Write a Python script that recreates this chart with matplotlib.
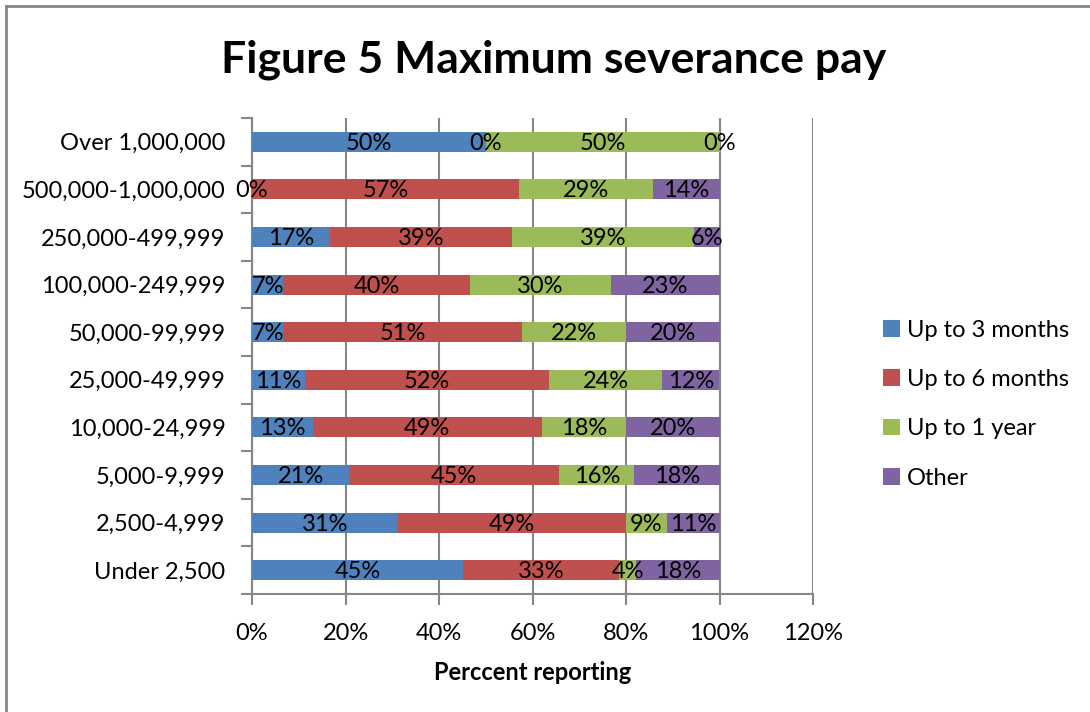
import matplotlib
matplotlib.use("Agg")
import matplotlib.pyplot as plt
from matplotlib.lines import Line2D
from matplotlib.patches import Patch
import numpy as np

categories = ["Over 1,000,000", "500,000-1,000,000", "250,000-499,999", "100,000-249,999",
              "50,000-99,999", "25,000-49,999", "10,000-24,999", "5,000-9,999",
              "2,500-4,999", "Under 2,500"]
series_names = ["Up to 3 months", "Up to 6 months", "Up to 1 year", "Other"]
up_to_3_months = [50.0, 0.0, 16.7, 6.7, 6.7, 11.4, 13.0, 20.8, 31.1, 45.1]
up_to_6_months = [0.0, 57.1, 38.9, 40.0, 51.1, 52.1, 49.0, 44.9, 48.8, 33.4]
up_to_1_year = [50.0, 28.6, 38.9, 30.0, 22.2, 24.3, 18.0, 16.1, 8.8, 3.7]
other = [0.0, 14.3, 5.6, 23.3, 20.0, 12.2, 20.0, 18.2, 11.3, 17.8]
x_ticks = [0, 20, 40, 60, 80, 100, 120]
x_tick_labels = ["0%", "20%", "40%", "60%", "80%", "100%", "120%"]
colors = ["#4F81BD", "#C0504D", "#9BBB59", "#8064A2"]

plt.rcParams['font.family'] = ['Lato', 'DejaVu Sans']
fs = 17
grid_c = "#868686"

fig = plt.figure(figsize=(10.9, 7.12), dpi=100)
ax = fig.add_axes([252/1090, 1 - 594/712, (813 - 252)/1090, (594 - 118)/712])

series = [up_to_3_months, up_to_6_months, up_to_1_year, other]
y = np.arange(len(categories))
left = np.zeros(len(categories))
for vals, name, col in zip(series, series_names, colors):
    vals = np.array(vals)
    ax.barh(y, vals, left=left, height=0.42, color=col, label=name, zorder=3)
    for yi, l, v in zip(y, left, vals):
        ax.text(l + v/2, yi + 0.03, f"{round(v):.0f}%", ha="center", va="center",
                fontsize=fs, color="black", zorder=4)
    left = left + vals

ax.set_xlim(0, 120)
ax.set_ylim(len(categories) - 0.5, -0.5)
ax.set_xticks(x_ticks)
ax.set_xticklabels(x_tick_labels, fontsize=fs)
ax.set_yticks(y)
ax.set_yticklabels(categories, fontsize=fs)
ax.tick_params(axis="y", length=0, pad=19)
ax.set_yticks(np.arange(len(categories) + 1) - 0.5, minor=True)
ax.tick_params(axis="y", which="minor", length=8, width=1.5, color=grid_c)
ax.tick_params(axis="x", length=8, width=1.5, color=grid_c, pad=13)
ax.grid(axis="x", color=grid_c, linewidth=1.5, zorder=0)
for s in ["top", "right"]:
    ax.spines[s].set_visible(False)
ax.spines["left"].set_color(grid_c)
ax.spines["left"].set_linewidth(1.5)
ax.spines["bottom"].set_color(grid_c)
ax.spines["bottom"].set_linewidth(1.5)
ax.set_xlabel("Perccent reporting", fontsize=fs, fontweight="bold", labelpad=12)

handles = [Patch(facecolor=c, edgecolor="none") for c in colors]
fig.legend(handles, series_names, loc="center left", bbox_to_anchor=(862/1090, 1 - 404/712),
           frameon=False, fontsize=fs, handlelength=0.7, handleheight=0.7,
           handletextpad=0.3, labelspacing=1.2)

fig.text(554/1090, 1 - 60/712, "Figure 5 Maximum severance pay", ha="center", va="center",
         fontsize=32, fontweight="bold")

fig.add_artist(Line2D([6/1090, 6/1090], [0, 1 - 6/712], transform=fig.transFigure,
                      color=grid_c, linewidth=2))
fig.add_artist(Line2D([6/1090, 1], [1 - 6/712, 1 - 6/712], transform=fig.transFigure,
                      color=grid_c, linewidth=2))

fig.savefig("out.png", dpi=100)
